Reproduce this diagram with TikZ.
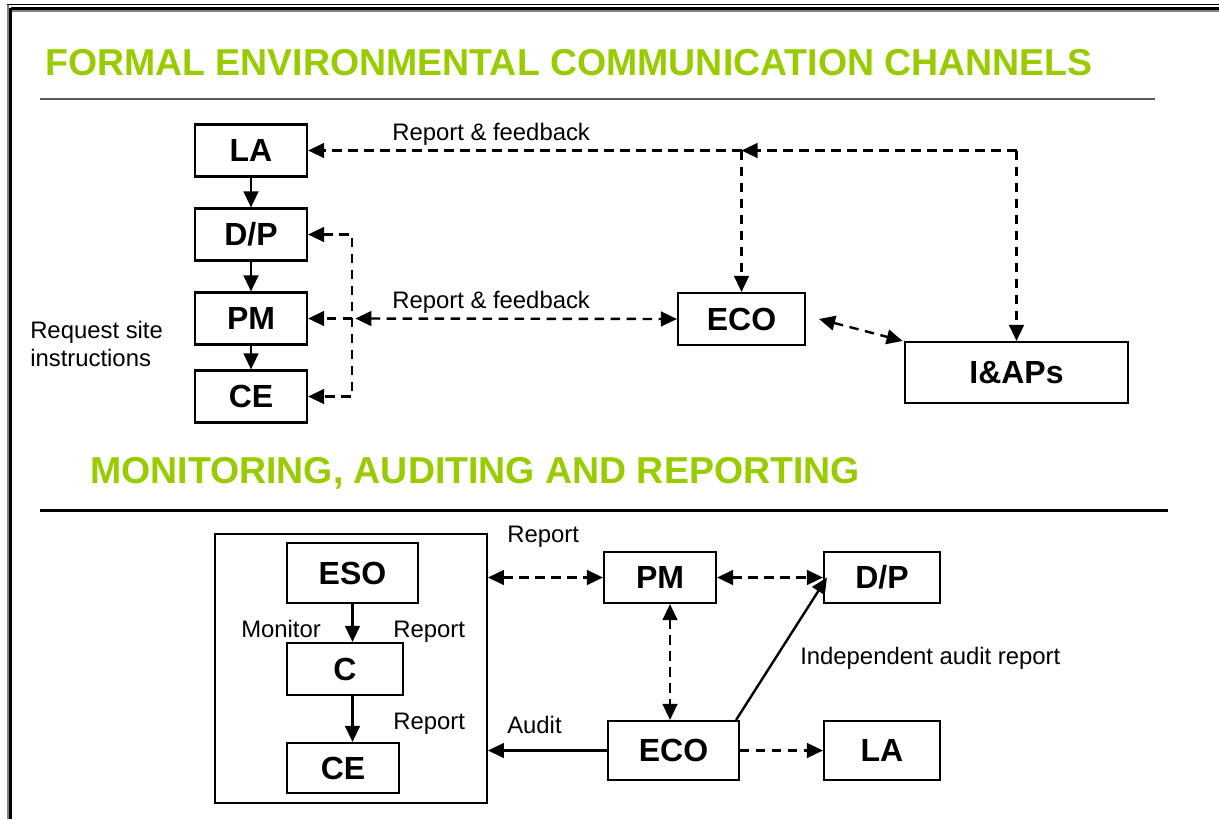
\documentclass[tikz,border=0pt]{standalone}
\usepackage{fontspec}
\setmainfont{Liberation Sans}
\usetikzlibrary{arrows.meta}
\definecolor{titlegreen}{RGB}{153,204,0}
\definecolor{rulegray}{RGB}{90,90,90}
\begin{document}
\begin{tikzpicture}[x=0.75pt,y=-0.75pt,
  box/.style 2 args={draw,line width=1.6pt,inner sep=0pt,
    minimum width=#1*0.75pt,minimum height=#2*0.75pt,
    font=\bfseries\fontsize{24}{28}\selectfont},
  lbl/.style={anchor=base west,inner sep=0pt,font=\fontsize{17.9}{21}\selectfont},
  ttl/.style={anchor=base west,inner sep=0pt,text=titlegreen,
    font=\bfseries\fontsize{28.1}{32}\selectfont},
  link/.style={line width=1.8pt,-{Triangle[length=12pt,width=11pt]}},
  biway/.style={line width=1.8pt,{Triangle[length=12pt,width=11pt]}-{Triangle[length=12pt,width=11pt]}},
  dline/.style={dash pattern=on 7pt off 5pt}]
\useasboundingbox (0,0) rectangle (1219,819);

% page border
\draw[black,line width=1pt] (7,4.7) -- (1219,4.7);
\draw[black,line width=2.3pt] (10.5,8.5) -- (1219,8.5);
\draw[gray,line width=1.1pt] (12,10.8) -- (1219,10.8);
\draw[gray,line width=1.5pt] (8,4.5) -- (8,819);
\draw[black,line width=2.3pt] (10.7,7.5) -- (10.7,819);

% ---------- formal communication channels ----------
\node[ttl] (t1) at (45,75) {FORMAL ENVIRONMENTAL COMMUNICATION CHANNELS};
\draw[rulegray,line width=1.6pt] (40,99) -- (1155,99);

\node[box={112}{52}] (LA) at (251,150.5) {LA};
\node[box={112}{52}] (DP) at (251,234.5) {D/P};
\node[box={112}{52}] (PM) at (251,318.5) {PM};
\node[box={112}{52}] (CE) at (251,396.5) {CE};
\node[box={127}{52}] (ECO) at (741.5,319) {ECO};
\node[box={223}{61}] (IAP) at (1016.5,372.5) {I\&APs};

\draw[link] (LA) -- (DP);
\draw[link] (DP) -- (PM);
\draw[link] (PM) -- (CE);

\coordinate (bx) at (352,300);
\coordinate (jn) at (ECO.north |- LA.east);
\coordinate (cr) at (IAP.north |- LA.east);

\draw[biway,dline] (DP.east) -- (bx |- DP.east) -- (bx |- CE.east) -- (CE.east);
\draw[link,dline] (bx |- PM.east) -- (PM.east);
\draw[biway,dline] ([xshift=2.5pt]bx |- PM.east) -- (ECO.west);

\draw[link,dline] (cr) -- (jn);
\draw[link,dline] (jn) -- (LA.east);
\draw[link,dline] (jn) -- (ECO.north);
\draw[link,dline] (cr) -- (IAP.north);
\draw[biway,dline] ([xshift=9.75pt]ECO.east) -- ([xshift=-1pt]IAP.north west);

\node[lbl] (rf1) at (392,140) {Report \& feedback};
\node[lbl] (rf2) at (392,308) {Report \& feedback};
\node[lbl] (rq1) at (30,338) {Request site};
\node[lbl] (rq2) at (30,366) {instructions};

% ---------- monitoring, auditing and reporting ----------
\node[ttl] (t2) at (90,483) {MONITORING, AUDITING AND REPORTING};
\draw[black,line width=1.6pt] (40,510.5) -- (1168,510.5);

\node[draw,line width=1.4pt,inner sep=0pt,minimum width=272*0.75pt,minimum height=269*0.75pt] (grp) at (351,668.5) {};
\node[box={131}{60}] (ESO) at (352.5,573) {ESO};
\node[box={116}{52}] (C) at (345,669) {C};
\node[box={112}{50}] (CEb) at (343,768) {CE};
\node[box={112}{51}] (PMb) at (660,577.5) {PM};
\node[box={116}{51}] (DPb) at (882,577.5) {D/P};
\node[box={131}{59}] (ECOb) at (673.5,750.5) {ECO};
\node[box={116}{59}] (LAb) at (882,750.5) {LA};

\draw[link] (ESO.south) -- (ESO.south |- C.north);
\draw[link] (ESO.south |- C.south) -- (ESO.south |- CEb.north);

\coordinate (v) at (670,650);
\draw[biway,dline] (grp.east |- PMb.west) -- (PMb.west);
\draw[biway,dline] (PMb.east) -- (DPb.west);
\draw[biway,dline] (v |- PMb.south) -- (v |- ECOb.north);
\draw[link] (ECOb.west) -- (grp.east |- ECOb.west);
\draw[link,dline] (ECOb.east) -- (LAb.west);
\draw[link] ([xshift=-3pt]ECOb.north east) -- ([xshift=3pt]DPb.west);

\node[lbl] (rp0) at (507,542) {Report};
\node[lbl] (mon) at (241,637) {Monitor};
\node[lbl] (rp1) at (393,637) {Report};
\node[lbl] (rp2) at (393,729) {Report};
\node[lbl] (aud) at (507,733) {Audit};
\node[lbl] (iar) at (800,664) {Independent audit report};
\end{tikzpicture}
\end{document}
